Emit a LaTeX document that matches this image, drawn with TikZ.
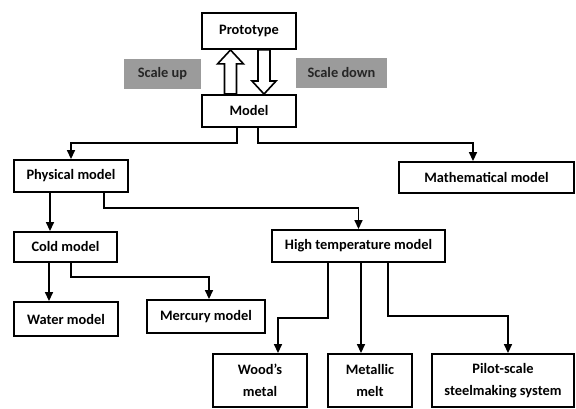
\documentclass[tikz,border=0pt]{standalone}
\usepackage{fontspec}
\setmainfont{Carlito}
\usetikzlibrary{arrows.meta,calc}
\definecolor{scalegray}{RGB}{155,155,155}
\tikzset{
  box/.style={draw, line width=1.9pt, inner sep=0pt, align=center,
    font=\bfseries\fontsize{14.4}{22}\selectfont},
  tag/.style={fill=scalegray, inner sep=0pt,
    font=\bfseries\fontsize{14.4}{17}\selectfont, text=black!85},
  link/.style={line width=1.6pt, -{Triangle[length=9pt,width=8pt]}},
  hollow/.style={draw, fill=white, line width=1.6pt, line join=miter}
}
\begin{document}
\begin{tikzpicture}[x=1pt,y=-1pt]
\useasboundingbox (0,0) rectangle (576,409);
\node[box, minimum width=94pt, minimum height=36pt] (proto) at (249,31) {Prototype};
\node[box, minimum width=94pt, minimum height=32pt] (model) at (249,111) {Model};
\node[tag, minimum width=77pt, minimum height=30pt] (up) at (162.5,74) {Scale up};
\node[tag, minimum width=91pt, minimum height=30pt] (down) at (341.5,73) {Scale down};
\node[box, minimum width=114pt, minimum height=32pt] (phys) at (71,176) {Physical model};
\node[box, minimum width=175pt, minimum height=31pt] (math) at (486.5,177.5) {Mathematical model};
\node[box, minimum width=103pt, minimum height=30pt] (cold) at (65.5,247) {Cold model};
\node[box, minimum width=173pt, minimum height=32pt] (high) at (358.5,246) {High temperature model};
\node[box, minimum width=104pt, minimum height=34pt] (water) at (66,319) {Water model};
\node[box, minimum width=118pt, minimum height=33pt] (mercury) at (206,316.5) {Mercury model};
\node[box, minimum width=94pt, minimum height=53pt] (wood) at (260,380.5) {Wood’s\\metal};
\node[box, minimum width=84pt, minimum height=53pt] (metal) at (370,380.5) {Metallic\\melt};
\node[box, minimum width=142pt, minimum height=53pt] (pilot) at (503,380.5) {Pilot-scale\\steelmaking system};

\draw[hollow] ($(model.north)+(-24.5,0)$) -- ($(proto.south)+(-24.5,14)$)
  -- ($(proto.south)+(-31.5,14)$) -- ($(proto.south)+(-18.5,0)$)
  -- ($(proto.south)+(-5.5,14)$) -- ($(proto.south)+(-12.5,14)$)
  -- ($(model.north)+(-12.5,0)$) -- cycle;
\draw[hollow] ($(proto.south)+(9,0)$) -- ($(model.north)+(9,-13)$)
  -- ($(model.north)+(3,-13)$) -- ($(model.north)+(15,0)$)
  -- ($(model.north)+(27,-13)$) -- ($(model.north)+(21,-13)$)
  -- ($(proto.south)+(21,0)$) -- cycle;

\draw[link] ([xshift=-12pt]model.south) -- ++(0,15) -| (phys.north);
\draw[link] ([xshift=9pt]model.south) -- ++(0,15) -| ([xshift=-13.5pt]math.north);
\draw[link] ([xshift=-21pt]phys.south) -- ([xshift=-15.5pt]cold.north);
\draw[link] ([xshift=33pt]phys.south) -- ++(0,15) -| (high.north);
\draw[link] ([xshift=-16.5pt]cold.south) -- ([xshift=-17pt]water.north);
\draw[link] ([xshift=5.5pt]cold.south) -- ++(0,14) -| ([xshift=3pt]mercury.north);
\draw[link] ([xshift=-30.5pt]high.south) -- ++(0,55) -| ([xshift=18pt]wood.north);
\draw[link] ([xshift=2.5pt]high.south) -- ([xshift=-9pt]metal.north);
\draw[link] ([xshift=29.5pt]high.south) -- ++(0,53) -| ([xshift=5pt]pilot.north);
\end{tikzpicture}
\end{document}
